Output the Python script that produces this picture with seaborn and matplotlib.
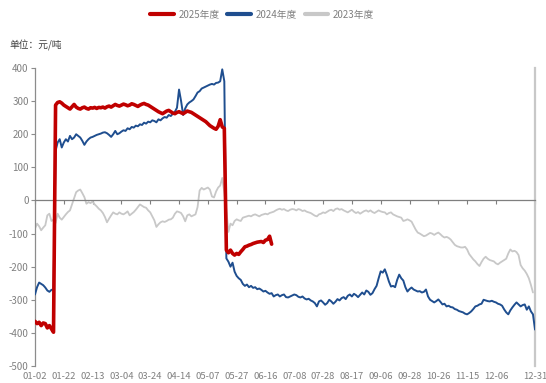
import numpy as np
import pandas as pd
import matplotlib
matplotlib.use("Agg")
import matplotlib.pyplot as plt
import seaborn as sns
from matplotlib.lines import Line2D

# Spread values (元/吨) by trading-day index of the season
s2025 = [-365, -372, -368, -378, -370, -372, -385, -378, -388, -398,
         288, 296, 298, 294, 288, 284, 280, 276, 283, 290,
         282, 278, 276, 280, 282, 278, 276, 280, 279, 281,
         278, 281, 280, 282, 279, 283, 285, 282, 286, 290,
         287, 285, 288, 291, 289, 286, 288, 292, 290, 287,
         284, 288, 291, 293, 290, 288, 284, 280, 276, 272,
         268, 265, 262, 266, 270, 272, 268, 264, 262, 266,
         268, 265, 262, 266, 270, 268, 266, 262, 258, 254,
         250, 246, 242, 238, 232, 226, 222, 218, 215, 224,
         244, 222, 218, -150, -158, -150, -160, -165, -160, -163,
         -155, -148, -140, -138, -135, -133, -130, -128, -126, -125,
         -124, -127, -120, -118, -108, -132]

s2024 = [-284, -262, -248, -252, -256, -263, -272, -276, -270, -269,
         150, 175, 185, 160, 175, 185, 178, 195, 185, 190,
         200, 195, 190, 180, 168, 178, 185, 190, 192, 195,
         198, 200, 202, 205, 206, 203, 198, 192, 200, 210,
         200, 203, 208, 212, 210, 218, 215, 222, 220, 226,
         224, 230, 228, 235, 232, 238, 236, 242, 240, 236,
         245, 242, 248, 252, 250, 258, 255, 262, 268, 280,
         335, 300, 258, 278, 290, 296, 300, 305, 315, 326,
         330, 338, 341, 344, 347, 350, 352, 350, 355, 356,
         360, 396, 360, -175, -185, -200, -188, -215, -228, -235,
         -240, -252, -258, -254, -262, -258, -264, -262, -268, -266,
         -270, -275, -273, -278, -282, -280, -290, -286, -284, -290,
         -286, -284, -292, -293, -290, -287, -284, -286, -291, -293,
         -290, -296, -299, -297, -302, -305, -310, -320, -305, -302,
         -308, -315, -310, -300, -305, -312, -306, -298, -302, -295,
         -292, -298, -288, -284, -290, -282, -286, -292, -285, -278,
         -284, -272, -276, -285, -280, -268, -258, -235, -214, -218,
         -208, -225, -245, -260, -258, -262, -240, -224, -235, -242,
         -262, -275, -268, -263, -269, -272, -275, -274, -278, -276,
         -269, -290, -300, -304, -308, -304, -299, -306, -314, -312,
         -320, -318, -322, -323, -328, -330, -334, -336, -338, -342,
         -344, -340, -335, -328, -320, -318, -314, -312, -300, -302,
         -304, -305, -303, -306, -308, -312, -314, -318, -329, -338,
         -344, -332, -323, -315, -308, -314, -320, -316, -314, -330,
         -320, -335, -344, -390]

s2023 = [-85, -70, -78, -90, -82, -75, -45, -40, -62, -58,
         -68, -40, -52, -58, -50, -42, -35, -30, -12, 5,
         25, 30, 33, 22, 10, -10, -5, -8, -3, -12,
         -18, -25, -30, -38, -50, -66, -55, -45, -36, -40,
         -42, -36, -40, -42, -38, -33, -45, -40, -35, -28,
         -20, -12, -16, -20, -22, -30, -36, -48, -60, -80,
         -72, -66, -63, -65, -62, -58, -57, -52, -40, -33,
         -35, -38, -48, -63, -45, -42, -48, -45, -42, -20,
         30, 38, 33, 36, 39, 33, 12, 9, 27, 39,
         45, 68, 25, -30, -95, -70, -75, -62, -57, -60,
         -62, -52, -50, -48, -46, -48, -44, -42, -45, -48,
         -44, -42, -40, -42, -38, -36, -34, -30, -27, -25,
         -28, -26, -30, -32, -28, -26, -27, -30, -26, -28,
         -32, -30, -34, -36, -38, -42, -46, -48, -42, -40,
         -36, -38, -34, -30, -28, -32, -26, -24, -28, -26,
         -30, -33, -36, -32, -28, -34, -38, -35, -40, -36,
         -32, -30, -34, -30, -35, -38, -34, -30, -33, -35,
         -36, -42, -38, -36, -42, -45, -48, -50, -52, -62,
         -60, -57, -60, -64, -76, -88, -97, -100, -104, -108,
         -106, -102, -98, -100, -104, -100, -97, -102, -108, -112,
         -110, -113, -118, -126, -134, -138, -140, -142, -142, -140,
         -148, -162, -170, -178, -184, -192, -198, -186, -176, -170,
         -176, -180, -182, -184, -190, -193, -188, -184, -180, -176,
         -160, -148, -154, -152, -156, -165, -195, -205, -212, -222,
         -235, -255, -278, np.nan]

tick_labels = ["01-02", "01-22", "02-13", "03-04", "03-24", "04-14", "05-07",
               "05-27", "06-16", "07-08", "07-28", "08-17", "09-06", "09-28",
               "10-26", "11-15", "12-06", "12-31"]
series_names = ["2025年度", "2024年度", "2023年度"]
colors = ["#C00000", "#1F4E8F", "#C8C8C8"]
widths = [2.6, 1.4, 1.3]

n = len(s2024)
frames = []
for name, vals in zip(series_names, [s2025, s2024, s2023]):
    frames.append(pd.DataFrame({"day": np.arange(len(vals)), "value": vals, "season": name}))
df = pd.concat(frames, ignore_index=True)

sns.set_theme(style="white")
plt.rcParams["font.family"] = ["Liberation Sans Narrow", "Noto Sans CJK SC", "DejaVu Sans"]
plt.rcParams["axes.unicode_minus"] = False

fig = plt.figure(figsize=(5.46, 3.83), dpi=100)
ax = fig.add_axes([0.0641, 0.0444, 0.9158, 0.778])

# draw oldest season first so the current one sits on top
for name, col, lw, z in zip(series_names[::-1], colors[::-1], widths[::-1], [2, 3, 4]):
    sub = df[df["season"] == name].dropna()
    sns.lineplot(data=sub, x="day", y="value", ax=ax, color=col, linewidth=lw,
                 legend=False, zorder=z)

ax.set_xlim(0, n - 1)
ax.set_ylim(-500, 400)
ax.set_yticks(np.arange(-500, 401, 100))
ax.set_xlabel("")
ax.set_ylabel("")

tick_pos = list(range(0, 14 * 17, 14)) + [n - 1]

# zero line carries the x ticks; labels sit at the bottom edge
ax.spines["bottom"].set_position(("data", 0))
ax.spines["bottom"].set_color("#7F7F7F")
ax.spines["bottom"].set_linewidth(0.9)
ax.spines["top"].set_visible(False)
ax.spines["left"].set_color("#8C8C8C")
ax.spines["left"].set_linewidth(0.9)
ax.spines["right"].set_color("#C8C8C8")
ax.spines["right"].set_linewidth(1.6)
ax.set_xticks(tick_pos)
ax.tick_params(axis="x", bottom=True, direction="out", length=3, width=0.8,
               color="#7F7F7F", labelbottom=False)
ax.tick_params(axis="y", left=True, direction="out", length=3, width=0.8,
               color="#8C8C8C", labelsize=7, labelcolor="#808080", pad=1.5)

sec = ax.secondary_xaxis("bottom")
sec.set_xticks(tick_pos, tick_labels)
sec.spines["bottom"].set_visible(False)
sec.tick_params(axis="x", length=0, pad=4, labelsize=6.8, labelcolor="#808080")

fig.text(0.018, 0.8825, "单位：元/吨", fontsize=7, color="#404040", va="center",
         family=["Noto Sans CJK SC", "DejaVu Sans"])

handles = [Line2D([], [], color=c, linewidth=3) for c in colors]
fig.legend(handles, series_names, loc="center", bbox_to_anchor=(0.48, 0.962),
           ncol=3, frameon=False, labelcolor="#808080",
           handlelength=2.4, handletextpad=0.5, columnspacing=0.8,
           prop={"family": ["Liberation Sans Narrow", "Noto Sans CJK SC", "DejaVu Sans"], "size": 7})

fig.savefig("out.png", dpi=100, facecolor="white")
